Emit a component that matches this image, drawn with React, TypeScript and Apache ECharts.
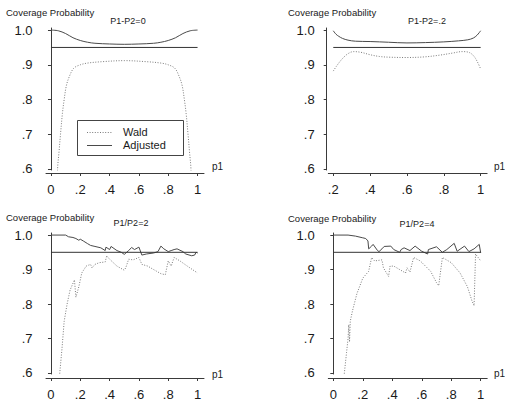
import React, { useEffect, useRef } from "react";
import * as echarts from "echarts";

// ---- data (p1, coverage probability) ----
const xTicksFull = [0, 0.2, 0.4, 0.6, 0.8, 1];
const xTicksShort = [0.2, 0.4, 0.6, 0.8, 1];
const yTicks = [0.6, 0.7, 0.8, 0.9, 1.0];
const panelTitles = ["P1-P2=0", "P1-P2=.2", "P1/P2=2", "P1/P2=4"];
const legendNames = ["Wald", "Adjusted"];
const nominal = 0.95;

const p1Wald = [
  [0.03, 0.4], [0.045, 0.6], [0.055, 0.65], [0.065, 0.7], [0.078, 0.76], [0.09, 0.8],
  [0.105, 0.84], [0.125, 0.866], [0.155, 0.89], [0.2, 0.9], [0.25, 0.905], [0.35, 0.909],
  [0.5, 0.912], [0.65, 0.909], [0.75, 0.905], [0.8, 0.9], [0.845, 0.89], [0.875, 0.866],
  [0.895, 0.84], [0.91, 0.8], [0.922, 0.76], [0.935, 0.7], [0.945, 0.65], [0.955, 0.6], [0.97, 0.4],
];
const p1Adj = [
  [0, 1.0], [0.05, 0.998], [0.1, 0.99], [0.15, 0.978], [0.2, 0.97], [0.25, 0.965],
  [0.3, 0.962], [0.4, 0.96], [0.5, 0.959], [0.6, 0.96], [0.7, 0.962], [0.75, 0.965],
  [0.8, 0.97], [0.85, 0.978], [0.9, 0.99], [0.95, 0.998], [1.0, 1.0],
];
const p1Ref = [[0, nominal], [1, nominal]];

const p2Wald = [
  [0.2, 0.882], [0.22, 0.898], [0.25, 0.918], [0.28, 0.932], [0.31, 0.938], [0.35, 0.936],
  [0.4, 0.929], [0.45, 0.924], [0.5, 0.922], [0.6, 0.921], [0.7, 0.923], [0.78, 0.928],
  [0.85, 0.934], [0.9, 0.938], [0.94, 0.935], [0.97, 0.92], [1.0, 0.888],
];
const p2Adj = [
  [0.2, 0.998], [0.215, 0.988], [0.23, 0.982], [0.25, 0.976], [0.28, 0.971], [0.32, 0.968],
  [0.4, 0.967], [0.5, 0.965], [0.6, 0.963], [0.7, 0.964], [0.8, 0.966], [0.88, 0.969],
  [0.93, 0.972], [0.96, 0.977], [0.98, 0.985], [1.0, 0.998],
];
const p2Ref = [[0.2, nominal], [1, nominal]];

const p3Wald = [
  [0.05, 0.5], [0.06, 0.6], [0.075, 0.67], [0.09, 0.75], [0.11, 0.8], [0.13, 0.84],
  [0.16, 0.87], [0.17, 0.82], [0.19, 0.85], [0.21, 0.89], [0.24, 0.91], [0.27, 0.915],
  [0.28, 0.905], [0.3, 0.915], [0.33, 0.92], [0.37, 0.922], [0.38, 0.94], [0.4, 0.93],
  [0.45, 0.91], [0.5, 0.898], [0.51, 0.905], [0.53, 0.93], [0.56, 0.928], [0.6, 0.935],
  [0.62, 0.915], [0.66, 0.91], [0.7, 0.9], [0.75, 0.888], [0.78, 0.885], [0.8, 0.925],
  [0.82, 0.91], [0.84, 0.935], [0.88, 0.925], [0.93, 0.91], [1.0, 0.89],
];
const p3Adj = [
  [0, 1.0], [0.1, 1.0], [0.12, 0.995], [0.15, 0.993], [0.17, 0.99], [0.19, 0.985],
  [0.2, 0.988], [0.22, 0.983], [0.25, 0.975], [0.27, 0.97], [0.3, 0.967], [0.34, 0.963],
  [0.37, 0.955], [0.375, 0.965], [0.4, 0.958], [0.41, 0.967], [0.45, 0.955], [0.48, 0.95],
  [0.5, 0.944], [0.53, 0.955], [0.55, 0.964], [0.57, 0.958], [0.6, 0.965], [0.62, 0.942],
  [0.65, 0.945], [0.7, 0.948], [0.73, 0.952], [0.75, 0.968], [0.77, 0.96], [0.8, 0.952],
  [0.82, 0.955], [0.84, 0.958], [0.86, 0.96], [0.9, 0.952], [0.92, 0.945], [0.96, 0.94],
  [0.98, 0.942], [0.99, 0.95], [1.0, 0.948],
];
const p3Ref = [[0, nominal], [1, nominal]];

const p4Wald = [
  [0.06, 0.5], [0.075, 0.6], [0.09, 0.66], [0.1, 0.7], [0.105, 0.74], [0.11, 0.69],
  [0.115, 0.75], [0.13, 0.78], [0.16, 0.83], [0.2, 0.875], [0.24, 0.895], [0.26, 0.935],
  [0.28, 0.925], [0.33, 0.928], [0.34, 0.905], [0.375, 0.88], [0.385, 0.91], [0.41, 0.91],
  [0.45, 0.9], [0.49, 0.89], [0.5, 0.905], [0.52, 0.893], [0.545, 0.935], [0.59, 0.925],
  [0.66, 0.895], [0.7, 0.862], [0.715, 0.853], [0.74, 0.935], [0.8, 0.92], [0.86, 0.89],
  [0.91, 0.85], [0.94, 0.81], [0.955, 0.795], [0.965, 0.945], [1.0, 0.925],
];
const p4Adj = [
  [0, 1.0], [0.1, 1.0], [0.15, 0.997], [0.2, 0.992], [0.22, 0.99], [0.235, 0.983],
  [0.24, 0.96], [0.26, 0.968], [0.27, 0.973], [0.3, 0.955], [0.31, 0.952], [0.33, 0.96],
  [0.345, 0.967], [0.39, 0.968], [0.41, 0.958], [0.45, 0.95], [0.46, 0.958], [0.48, 0.963],
  [0.52, 0.955], [0.555, 0.968], [0.6, 0.953], [0.64, 0.945], [0.645, 0.958], [0.7, 0.966],
  [0.74, 0.95], [0.77, 0.958], [0.82, 0.976], [0.84, 0.953], [0.89, 0.968], [0.92, 0.952],
  [0.955, 0.96], [0.99, 0.973], [1.0, 0.948],
];
const p4Ref = [[0, nominal], [1, nominal]];

const FONT = "'Liberation Sans', Arial, Helvetica, sans-serif";
const AXIS_COLOR = "#3a3a3a";
const TEXT_COLOR = "#1a1a1a";

const fmtX = (v: number) => {
  const r = Math.round(v * 10) / 10;
  if (r === 0) return "0";
  if (r === 1) return "1";
  return "." + Math.round(r * 10);
};
const fmtY = (v: number) => {
  const r = Math.round(v * 10) / 10;
  if (r >= 1) return "1.0";
  return "." + Math.round(r * 10);
};

function makeX(i: number, min: number, max: number, ticks: number[], offset: number) {
  return {
    type: "value",
    gridIndex: i,
    min,
    max,
    offset,
    axisLine: { show: true, lineStyle: { color: AXIS_COLOR, width: 1 } },
    axisTick: { show: true, customValues: ticks, length: 3, lineStyle: { color: AXIS_COLOR } },
    axisLabel: {
      customValues: ticks,
      formatter: fmtX,
      fontSize: 13,
      color: TEXT_COLOR,
      fontFamily: FONT,
      margin: 10,
    },
    splitLine: { show: false },
  };
}
function makeY(i: number, offset: number) {
  return {
    type: "value",
    gridIndex: i,
    min: 0.597,
    max: 1.006,
    offset,
    axisLine: { show: true, lineStyle: { color: AXIS_COLOR, width: 1 } },
    axisTick: { show: true, customValues: yTicks, length: 3, lineStyle: { color: AXIS_COLOR } },
    axisLabel: {
      customValues: yTicks,
      formatter: fmtY,
      fontSize: 13,
      color: TEXT_COLOR,
      fontFamily: FONT,
      margin: 12,
    },
    splitLine: { show: false },
  };
}

function makeSeries(i: number, wald: number[][], adj: number[][], ref: number[][], smooth: any) {
  return [
    {
      name: legendNames[0],
      type: "line",
      xAxisIndex: i,
      yAxisIndex: i,
      data: wald,
      symbol: "none",
      smooth,
      clip: true,
      lineStyle: { color: "#7a7a7a", width: 1, type: [1, 1.6] },
    },
    {
      name: legendNames[1],
      type: "line",
      xAxisIndex: i,
      yAxisIndex: i,
      data: adj,
      symbol: "none",
      smooth,
      clip: true,
      lineStyle: { color: "#4a4a4a", width: 1 },
    },
    {
      name: "nominal",
      type: "line",
      xAxisIndex: i,
      yAxisIndex: i,
      data: ref,
      symbol: "none",
      lineStyle: { color: "#333", width: 1 },
    },
  ];
}

function txt(x: number, y: number, text: string, size: number, align = "left") {
  return {
    type: "text",
    x,
    y,
    silent: true,
    style: {
      text,
      fontSize: size,
      fontFamily: FONT,
      fill: TEXT_COLOR,
      align,
      verticalAlign: "middle",
    },
  };
}

export default function App() {
  const ref = useRef<HTMLDivElement>(null);
  useEffect(() => {
    if (!ref.current) return;
    const chart = echarts.init(ref.current, null, { renderer: "svg" });
    const option: any = {
      animation: false,
      backgroundColor: "#ffffff",
      grid: [
        { left: 46, top: 28, width: 158, height: 142 },
        { left: 328.3, top: 28, width: 158.8, height: 142 },
        { left: 46, top: 233, width: 158, height: 142 },
        { left: 328.3, top: 233, width: 158.9, height: 142 },
      ],
      xAxis: [
        makeX(0, -0.034, 1.044, xTicksFull, 3),
        makeX(1, 0.173, 1.035, xTicksShort, 3),
        makeX(2, -0.034, 1.044, xTicksFull, 4),
        makeX(3, -0.034, 1.044, xTicksFull, 4),
      ],
      yAxis: [makeY(0, 1.5), makeY(1, 1.6), makeY(2, 1.5), makeY(3, 1.6)],
      series: [
        ...makeSeries(0, p1Wald, p1Adj, p1Ref, 0.35),
        ...makeSeries(1, p2Wald, p2Adj, p2Ref, 0.35),
        ...makeSeries(2, p3Wald, p3Adj, p3Ref, false),
        ...makeSeries(3, p4Wald, p4Adj, p4Ref, false),
      ],
      graphic: [
        txt(6, 12, "Coverage Probability", 9.5),
        txt(288, 12, "Coverage Probability", 9.5),
        txt(6, 217, "Coverage Probability", 9.5),
        txt(288, 218, "Coverage Probability", 9.5),
        txt(128, 21, panelTitles[0], 9, "center"),
        txt(427, 21, panelTitles[1], 9, "center"),
        txt(131, 223, panelTitles[2], 9, "center"),
        txt(417, 224, panelTitles[3], 9, "center"),
        txt(212, 166, "p1", 10),
        txt(494, 166, "p1", 10),
        txt(212, 374, "p1", 10),
        txt(494, 373, "p1", 10),
        {
          type: "rect",
          silent: true,
          shape: { x: 77.5, y: 120.5, width: 106, height: 35 },
          style: { fill: "#fff", stroke: "#444", lineWidth: 1 },
        },
        {
          type: "line",
          silent: true,
          shape: { x1: 87, y1: 132.5, x2: 112, y2: 132.5 },
          style: { stroke: "#7a7a7a", lineWidth: 1, lineDash: [1, 1.6] },
        },
        {
          type: "line",
          silent: true,
          shape: { x1: 87, y1: 145.5, x2: 112, y2: 145.5 },
          style: { stroke: "#4a4a4a", lineWidth: 1 },
        },
        txt(123, 132, legendNames[0], 11),
        txt(123, 145, legendNames[1], 11),
      ],
    };
    chart.setOption(option);
    return () => chart.dispose();
  }, []);
  return (
    <div
      ref={ref}
      style={{ position: "absolute", left: 0, top: 0, width: 505, height: 401, background: "#fff" }}
    />
  );
}
